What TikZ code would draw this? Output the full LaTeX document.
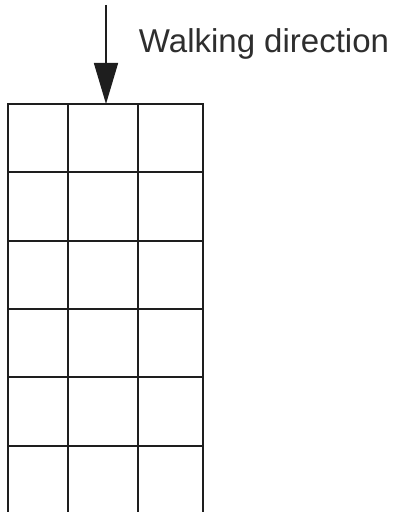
\documentclass[tikz,border=0pt]{standalone}
\usepackage{fontspec}
\setmainfont{Liberation Sans}
\usetikzlibrary{arrows.meta}
\definecolor{txtgray}{HTML}{2E2E2E}
\definecolor{linegray}{HTML}{1E1E1E}
\tikzset{
  gridline/.style={draw=linegray, line width=2pt},
  walkarrow/.style={draw=linegray, line width=1.6pt, -{Triangle[length=41pt,width=24pt]}},
  label/.style={text=txtgray, font=\fontsize{33}{38}\selectfont, anchor=base, inner sep=0pt}
}
\begin{document}
\begin{tikzpicture}[x=1pt,y=1pt]
\useasboundingbox (0,0) rectangle (392,512);
\fill[white] (0,0) rectangle (392,512);
\begin{scope}
\clip (0,0) rectangle (392,512);
% vertical lines
\foreach \x in {8,68,138,203} \draw[gridline] (\x,408) -- (\x,-5);
% horizontal lines
\foreach \y in {104,172,241,309,377,446} \draw[gridline] (7,512-\y) -- (204,512-\y);
\end{scope}
\coordinate (start) at (106,507);
\coordinate (gridtop) at (106,408);
\draw[walkarrow] (start) -- (gridtop);
\node[label] (walk) at (264,459) {Walking direction};
\end{tikzpicture}
\end{document}
